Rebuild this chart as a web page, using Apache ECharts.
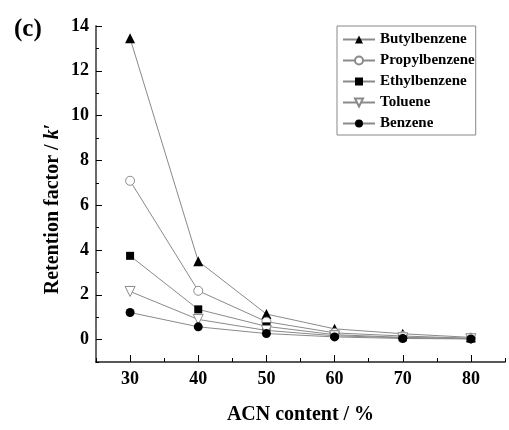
<!DOCTYPE html>
<html>
<head>
<meta charset="utf-8">
<script src="https://cdn.jsdelivr.net/npm/echarts@6/dist/echarts.min.js"></script>
<style>html,body{margin:0;padding:0;background:#fff}#c{width:509px;height:430px}</style>
</head>
<body>
<div id="c"></div>
<script>
var acn = [30, 40, 50, 60, 70, 80];
var butyl = [13.45, 3.5, 1.14, 0.48, 0.26, 0.1];
var propyl = [7.09, 2.18, 0.8, 0.3, 0.16, 0.06];
var ethyl = [3.74, 1.35, 0.59, 0.22, 0.1, 0.05];
var toluene = [2.15, 0.9, 0.41, 0.17, 0.08, 0.04];
var benzene = [1.21, 0.57, 0.27, 0.12, 0.05, 0.03];
var yMajor = [0, 2, 4, 6, 8, 10, 12, 14];
var yMinor = [-1, 1, 3, 5, 7, 9, 11, 13];
var xMajor = [30, 40, 50, 60, 70, 80];
var xMinor = [25, 35, 45, 55, 65, 75, 85];

var FONT = 'Liberation Serif';
function pts(ys) { return acn.map(function (x, i) { return [x, ys[i]]; }); }
function ser(name, ys, symbol, filled, rot) {
  return {
    name: name, type: 'line', data: pts(ys), xAxisIndex: 0, yAxisIndex: 0,
    symbol: symbol, symbolSize: symbol === 'rect' ? 8 : (symbol === 'triangle' ? 10 : 9),
    symbolRotate: rot || 0,
    showAllSymbol: true,
    lineStyle: { color: '#8a8a8a', width: 1 },
    itemStyle: filled ? { color: '#000', borderColor: '#000', borderWidth: 0 }
                      : { color: '#fff', borderColor: '#8a8a8a', borderWidth: 1 },
    emphasis: { disabled: true },
    z: 3
  };
}
var chart = echarts.init(document.getElementById('c'), null, { renderer: 'canvas' });
chart.setOption({
  animation: false,
  backgroundColor: '#fff',
  title: { text: '(c)', left: 9, top: 12, textStyle: { fontFamily: FONT, fontWeight: 'bold', fontSize: 25, color: '#000' } },
  grid: { left: 96, top: 26, right: 4, bottom: 62, containLabel: false },
  legend: {
    left: 337, top: 26, orient: 'vertical',
    borderColor: '#888', borderWidth: 1, borderRadius: 0,
    padding: [6, 1, 4, 5],
    itemWidth: 32, itemHeight: 10, itemGap: 6,
    textStyle: { fontFamily: FONT, fontWeight: 'bold', fontSize: 15, color: '#000', lineHeight: 15 },
    data: ['Butylbenzene', 'Propylbenzene', 'Ethylbenzene', 'Toluene', 'Benzene']
  },
  xAxis: [{
    type: 'value', min: 25, max: 85, interval: 5,
    axisLine: { onZero: false, lineStyle: { color: '#222', width: 1.5 } },
    axisTick: { inside: true, length: 7, lineStyle: { color: '#000', width: 1 }, customValues: xMajor },
    axisLabel: { customValues: xMajor, margin: 8, fontFamily: FONT, fontWeight: 'bold', fontSize: 18, color: '#000' },
    splitLine: { show: false },
    name: 'ACN content / %', nameLocation: 'middle', nameGap: 43,
    nameTextStyle: { fontFamily: FONT, fontWeight: 'bold', fontSize: 20, color: '#000' }
  }, {
    type: 'value', min: 25, max: 85, interval: 5, position: 'bottom',
    axisLine: { show: false, onZero: false },
    axisTick: { inside: true, length: 4, lineStyle: { color: '#000', width: 1 }, customValues: xMinor },
    axisLabel: { show: false }, splitLine: { show: false }
  }],
  yAxis: [{
    type: 'value', min: -1, max: 14, interval: 1,
    axisLine: { show: true, onZero: false, lineStyle: { color: '#6a6a6a', width: 2 } },
    axisTick: { inside: true, length: 6, lineStyle: { color: '#000', width: 1 }, customValues: yMajor },
    axisLabel: { customValues: yMajor, margin: 7, fontFamily: FONT, fontWeight: 'bold', fontSize: 18, color: '#000' },
    splitLine: { show: false }
  }, {
    type: 'value', min: -1, max: 14, interval: 1, position: 'left',
    axisLine: { show: false, onZero: false },
    axisTick: { inside: true, length: 3, lineStyle: { color: '#000', width: 1 }, customValues: yMinor },
    axisLabel: { show: false }, splitLine: { show: false }
  }],
  graphic: [{
    type: 'text', x: 53, y: 209, rotation: Math.PI / 2,
    style: {
      text: '{a|Retention factor / }{b|k}{a|\u2032}',
      align: 'center', verticalAlign: 'middle',
      rich: {
        a: { fontFamily: FONT, fontWeight: 'bold', fontSize: 20, fill: '#000' },
        b: { fontFamily: FONT, fontWeight: 'bold', fontStyle: 'italic', fontSize: 20, fill: '#000' }
      }
    }
  }],
  series: [
    ser('Butylbenzene', butyl, 'triangle', true),
    ser('Propylbenzene', propyl, 'circle', false),
    ser('Ethylbenzene', ethyl, 'rect', true),
    ser('Toluene', toluene, 'triangle', false, 180),
    ser('Benzene', benzene, 'circle', true)
  ]
});
</script>
</body>
</html>
